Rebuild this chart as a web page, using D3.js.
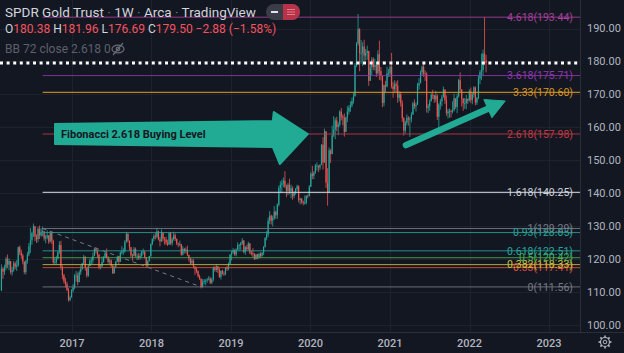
<!DOCTYPE html>
<html>
<head>
<meta charset="utf-8">
<script src="https://cdn.jsdelivr.net/npm/d3@7"></script>
<style>
  body { margin: 0; background: #131722; }
  svg { display: block; }
  text { font-family: Roboto, "Liberation Sans", sans-serif; }
</style>
</head>
<body>
<div id="chart"></div>
<script>
// weekly candles, one row per week: [close, high, low]; open is the previous close
var firstOpen = 110.5;
var weekStarts = ['2016-02-12', '2017-01-06', '2018-01-05', '2019-01-04', '2020-01-03', '2021-01-01', '2022-01-07'];

var candles2016 = [
  [117.1,118.4,110.3],[116.2,117.6,114.0],[117.4,118.3,115.2],[120.1,120.7,116.6],[118.3,121.4,117.2],
  [119.4,120.2,116.6],[116.0,119.3,115.4],[116.6,117.7,115.0],[118.7,119.4,116.2],[117.7,119.2,116.9],
  [118.1,119.7,116.4],[123.6,123.8,117.7],[122.0,124.1,121.2],[121.1,122.9,120.1],[119.2,121.6,118.4],
  [116.1,119.3,115.5],[119.5,119.7,115.3],[121.4,122.2,118.6],[123.9,124.9,120.9],[125.7,129.5,121.9],
  [127.9,128.3,124.4],[130.0,130.8,126.7],[126.9,129.9,125.5],[126.0,127.5,124.9],[129.2,129.8,125.1],
  [127.2,130.2,126.1],[128.3,129.4,126.8],[128.5,129.9,126.9],[126.3,128.4,125.6],[126.6,127.4,124.8],
  [127.2,128.7,126.0],[125.3,127.0,124.6],[127.9,128.6,125.0],[125.6,128.2,124.6],[119.0,125.9,118.6],
  [119.1,120.6,118.3],[120.2,121.0,118.5],[122.1,122.5,119.9],[124.3,125.4,121.6],[117.7,125.6,116.8],
  [115.1,118.0,113.9],[113.3,115.5,112.6],[112.4,114.3,111.4],[110.6,113.1,110.3],[107.6,111.2,107.1],
  [108.4,108.9,107.2],[110.5,110.9,108.3]
];
var candles2017 = [
  [111.4,112.4,109.9],[115.0,115.5,110.9],[115.0,116.4,113.2],[113.0,115.9,112.1],[116.0,116.6,113.1],
  [117.0,118.1,115.2],[118.7,118.8,116.7],[120.7,121.3,118.5],[117.3,120.9,116.5],[115.0,117.3,114.4],
  [117.9,118.3,114.6],[119.5,120.1,117.8],[119.6,120.4,118.4],[120.9,122.0,118.6],[123.1,123.5,120.9],
  [122.6,123.6,121.7],[121.4,122.9,120.4],[117.4,121.5,116.9],[117.8,118.3,116.9],[119.1,120.8,117.6],
  [120.5,120.9,118.9],[121.8,122.2,120.3],[120.5,123.2,120.2],[119.2,120.9,118.6],[119.6,120.2,118.5],
  [118.0,119.9,117.5],[115.7,118.2,115.5],[117.7,117.9,115.6],[119.3,119.5,117.2],[120.6,121.0,119.0],
  [119.2,120.5,118.4],[121.9,122.4,119.2],[122.3,123.9,121.4],[122.4,123.3,121.3],[125.2,125.8,121.9],
  [127.6,128.3,125.0],[125.6,127.9,125.0],[123.6,125.4,122.6],[121.1,123.7,120.6],[121.0,121.6,119.5],
  [123.1,123.7,120.8],[121.0,123.5,120.6],[121.0,121.7,119.7],[120.4,121.8,119.8],[121.0,121.8,119.9],
  [122.3,122.5,120.5],[122.3,123.2,121.4],[120.5,122.6,120.2],[118.1,120.6,117.4],[119.5,119.6,117.5],
  [120.9,121.0,119.2],[124.6,124.8,120.7]
];
var candles2018 = [
  [126.1,126.3,124.2],[127.0,127.6,125.4],[126.8,127.9,126.0],[128.4,129.5,126.3],[126.0,128.6,125.7],
  [125.4,126.8,123.9],[128.2,129.0,125.2],[126.2,128.0,125.4],[125.9,126.7,124.4],[125.0,126.8,124.3],
  [124.4,125.9,124.0],[127.9,128.3,124.5],[124.8,128.2,124.3],[126.0,126.6,124.1],[127.2,128.3,125.6],
  [126.1,127.8,125.5],[124.7,126.3,124.2],[124.6,125.0,123.6],[124.6,125.6,123.9],[121.4,124.6,121.0],
  [123.1,123.9,121.1],[122.5,123.4,121.7],[122.9,123.6,121.8],[121.3,124.1,120.9],[120.2,121.3,119.3],
  [118.7,120.3,118.4],[119.5,120.2,118.6],[117.8,120.0,117.2],[116.9,117.8,115.2],[116.3,117.6,115.8],
  [114.8,116.6,114.4],[114.1,115.3,113.7],[111.5,113.8,111.1],[113.1,113.9,111.4],[113.4,114.0,112.4],
  [113.5,113.9,112.0],[113.8,114.3,112.8],[114.1,114.9,113.5],[112.8,114.6,112.4],[113.8,114.3,112.4],
  [117.4,117.8,113.2],[116.7,117.8,116.2],[117.8,118.4,116.1],[116.8,117.9,115.8],[114.6,117.5,114.3],
  [116.4,116.6,113.8],[115.6,116.8,115.3],[115.5,116.3,114.9],[117.3,117.6,115.1],[117.0,118.0,116.4],
  [118.6,119.0,116.6],[121.4,121.5,118.5]
];
var candles2019 = [
  [122.0,122.5,119.6],[122.7,123.4,121.6],[121.4,123.0,121.0],[122.9,123.3,120.8],[124.2,125.1,122.7],
  [124.3,124.6,122.6],[124.8,125.2,122.8],[125.6,126.4,124.3],[122.1,125.8,121.8],[123.6,123.9,121.3],
  [123.0,124.4,122.6],[124.8,125.3,122.6],[121.9,124.7,121.5],[121.8,122.6,121.1],[121.5,123.3,120.5],
  [120.0,121.8,119.7],[121.4,121.6,119.9],[120.5,121.6,120.0],[121.6,121.9,120.1],[121.0,122.1,120.3],
  [121.9,122.1,120.6],[123.7,124.0,121.2],[126.4,126.7,123.5],[127.5,128.5,125.7],[131.6,132.6,126.8],
  [133.2,134.6,130.6],[131.7,133.5,130.5],[132.5,133.2,129.9],[134.4,136.1,131.9],[133.3,134.7,132.2],
  [136.5,136.9,132.2],[141.6,142.3,136.0],[142.6,143.6,140.0],[143.0,144.1,140.3],[143.8,144.8,141.8],
  [142.0,146.7,141.5],[140.7,142.6,138.8],[142.6,143.1,139.4],[140.6,144.4,139.7],[141.5,142.6,138.5],
  [139.1,142.1,138.0],[140.1,140.6,138.5],[141.3,141.6,139.5],[142.1,142.6,140.6],[138.0,142.4,137.2],
  [138.3,138.6,136.6],[137.3,138.6,136.8],[137.0,137.8,136.3],[137.0,139.3,136.6],[139.2,139.4,136.6],
  [139.1,139.6,138.4],[142.0,142.5,139.1]
];
var candles2020 = [
  [145.9,146.4,141.9],[145.3,148.3,144.3],[146.3,146.7,144.2],[148.4,148.9,145.9],[148.4,149.4,146.9],
  [147.8,148.4,146.4],[148.6,148.9,147.0],[154.7,154.9,148.6],[149.3,157.0,147.2],[158.8,159.6,150.4],
  [143.2,157.2,141.6],[140.1,147.6,136.2],[153.0,153.9,140.4],[151.9,153.4,149.2],[157.6,160.5,151.8],
  [159.3,163.4,157.1],[162.1,162.9,156.4],[160.1,163.2,158.8],[160.8,161.5,157.6],[164.8,165.2,160.2],
  [163.3,165.9,162.1],[162.9,163.9,160.6],[158.6,164.2,157.2],[163.0,163.2,158.9],[164.8,166.4,161.6],
  [165.9,166.8,163.9],[166.7,167.9,164.7],[168.0,169.0,166.1],[169.4,170.4,167.2],[178.8,179.5,169.4],
  [185.4,185.9,178.3],[189.8,194.4,184.8],[182.5,190.1,177.0],[182.6,186.5,179.3],[184.5,185.8,178.6],
  [181.8,186.6,180.2],[182.6,183.8,180.3],[183.2,184.8,180.5],[174.1,183.0,172.6],[178.2,179.0,174.2],
  [180.6,181.3,175.8],[178.3,181.3,177.3],[178.9,180.8,177.3],[176.4,179.3,175.3],[182.2,183.4,176.0],
  [177.1,186.3,174.4],[175.6,178.3,174.2],[167.4,175.5,166.1],[172.8,173.0,166.4],[172.4,174.1,170.6],
  [176.4,178.4,172.1],[176.4,177.7,175.3]
];
var candles2021 = [
  [178.4,178.8,175.3],[172.4,182.6,171.8],[171.6,173.7,169.0],[173.1,174.3,170.6],[172.6,173.9,170.6],
  [169.0,174.3,167.4],[170.0,171.0,167.9],[167.3,170.8,166.3],[162.8,168.2,161.7],[159.0,163.1,157.5],
  [161.4,162.0,158.2],[162.9,163.9,160.6],[162.4,163.4,160.5],[162.6,163.1,157.1],[163.9,164.6,161.5],
  [167.3,167.8,163.8],[166.4,168.5,165.6],[166.8,167.6,164.8],[172.7,173.5,166.9],[173.4,174.9,171.4],
  [176.7,177.3,173.4],[178.4,178.8,175.6],[176.4,179.3,175.3],[176.2,177.3,174.1],[165.9,176.7,164.5],
  [166.4,167.1,164.3],[167.9,168.5,165.0],[169.9,170.5,167.9],[169.8,171.4,168.6],[168.5,169.7,167.4],
  [169.6,171.1,167.7],[163.2,170.0,162.2],[166.9,167.3,158.9],[167.9,168.6,165.4],[169.1,169.8,166.4],
  [171.5,172.4,169.3],[168.2,170.9,167.1],[164.3,169.7,163.5],[164.8,165.6,162.7],[164.9,165.7,162.9],
  [164.8,165.4,163.0],[165.3,167.9,164.2],[168.8,170.2,164.8],[166.2,168.8,165.6],[169.4,170.2,164.3],
  [174.3,174.7,169.0],[171.5,176.7,170.6],[168.7,171.2,166.3],[167.3,168.9,165.0],[167.3,168.9,165.6],
  [168.6,169.8,165.5],[168.1,168.8,167.1],[170.96,171.6,167.8]
];
var candles2022 = [
  [168.3,172.1,167.4],[169.9,170.6,167.0],[172.1,172.5,169.0],[167.5,172.4,166.7],[168.9,169.2,166.8],
  [174.8,175.8,168.5],[176.7,177.4,173.1],[177.4,182.4,174.3],[182.4,183.6,175.5],[180.38,193.44,179.0],
  [179.50,181.96,176.69]
];

// fibonacci extension drawn from the 2016 high to the 2018 low
var fibAnchorHigh = ['2016-08-19', 129.29];
var fibAnchorLow = ['2018-08-17', 111.56];
var fibRatios = [0, 0.33, 0.382, 0.5, 0.618, 0.93, 1, 1.618, 2.618, 3.33, 3.618, 4.618];
var fibPrices = [111.56, 117.41, 118.33, 120.42, 122.51, 128.05, 129.29, 140.25, 157.98, 170.60, 175.71, 193.44];

var priceTicks = [100, 110, 120, 130, 140, 150, 160, 170, 180, 190];
var yearTicks = [2017, 2018, 2019, 2020, 2021, 2022, 2023];

var lastBar = { open: 180.38, high: 181.96, low: 176.69, close: 179.50, change: -2.88, pct: -1.58 };

// annotations
var bigArrow = { from: '2016-10-15', to: '2019-12-20', level: 157.98, text: 'Fibonacci 2.618 Buying Level' };
var smallArrow = { from: ['2021-03-15', 154.6], to: ['2022-06-14', 168.0] };

// ---------------------------------------------------------------
var width = 624, height = 353;
var plotRight = 580, plotBottom = 332;
var parse = d3.timeParse('%Y-%m-%d');

var up = '#26a69a', down = '#ef5350', teal = '#22ab94';
var fibColor = {
  0: '#787b86', 0.33: '#e0503a', 0.382: '#c9c33a', 0.5: '#4caf50', 0.618: '#26a69a', 0.93: '#26a69a',
  1: '#787b86', 1.618: '#d1d4dc', 2.618: '#c23b45', 3.33: '#d9951e', 3.618: '#9036b0', 4.618: '#a8409c'
};

var x = d3.scaleTime()
  .domain([new Date(2017, 0, 1), new Date(2023, 0, 1)])
  .range([72, 549]);
var y = d3.scaleLinear()
  .domain([100, 190])
  .range([325, 28.5]);

var svg = d3.select('#chart').append('svg')
  .attr('width', width)
  .attr('height', height);

svg.append('rect').attr('width', width).attr('height', height).attr('fill', '#131722');

svg.append('clipPath').attr('id', 'plot-clip')
  .append('rect').attr('width', plotRight).attr('height', plotBottom);

var plot = svg.append('g').attr('clip-path', 'url(#plot-clip)');

// grid
plot.selectAll('line.hgrid')
  .data(priceTicks)
  .enter().append('line')
  .attr('class', 'hgrid')
  .attr('x1', 0).attr('x2', plotRight)
  .attr('y1', function (d) { return Math.round(y(d)) + 0.5; })
  .attr('y2', function (d) { return Math.round(y(d)) + 0.5; })
  .attr('stroke', '#1e222d');

plot.selectAll('line.vgrid')
  .data(yearTicks)
  .enter().append('line')
  .attr('class', 'vgrid')
  .attr('x1', function (d) { return Math.round(x(new Date(d, 0, 1))) + 0.5; })
  .attr('x2', function (d) { return Math.round(x(new Date(d, 0, 1))) + 0.5; })
  .attr('y1', 0).attr('y2', plotBottom)
  .attr('stroke', '#1e222d');

// build candles
var candles = [];
var prev = firstOpen;
[candles2016, candles2017, candles2018, candles2019, candles2020, candles2021, candles2022].forEach(function (rows, k) {
  var start = parse(weekStarts[k]);
  rows.forEach(function (r, i) {
    candles.push({
      date: d3.timeDay.offset(start, i * 7),
      open: prev, close: r[0],
      high: Math.max(r[1], prev, r[0]),
      low: Math.min(r[2], prev, r[0])
    });
    prev = r[0];
  });
});

var candle = plot.selectAll('g.candle')
  .data(candles)
  .enter().append('g')
  .attr('class', 'candle');

candle.append('line')
  .attr('x1', function (d) { return x(d.date); })
  .attr('x2', function (d) { return x(d.date); })
  .attr('y1', function (d) { return y(d.high); })
  .attr('y2', function (d) { return y(d.low); })
  .attr('stroke', function (d) { return d.close >= d.open ? up : down; })
  .attr('stroke-width', 0.8);

candle.append('rect')
  .attr('x', function (d) { return x(d.date) - 0.6; })
  .attr('width', 1.2)
  .attr('y', function (d) { return y(Math.max(d.open, d.close)); })
  .attr('height', function (d) { return Math.max(0.8, Math.abs(y(d.open) - y(d.close))); })
  .attr('fill', function (d) { return d.close >= d.open ? up : down; });

// fib levels
var fibX0 = x(parse(fibAnchorHigh[0]));
var fibs = fibRatios.map(function (r, i) { return { ratio: r, price: fibPrices[i] }; });

plot.selectAll('line.fib')
  .data(fibs)
  .enter().append('line')
  .attr('class', 'fib')
  .attr('x1', fibX0).attr('x2', plotRight)
  .attr('y1', function (d) { return y(d.price); })
  .attr('y2', function (d) { return y(d.price); })
  .attr('stroke', function (d) { return fibColor[d.ratio]; })
  .attr('stroke-width', function (d) { return d.ratio === 1.618 || d.ratio === 3.33 ? 1.3 : 1; })
  .attr('stroke-opacity', 0.85);

plot.append('line')
  .attr('x1', fibX0).attr('y1', y(fibAnchorHigh[1]))
  .attr('x2', x(parse(fibAnchorLow[0]))).attr('y2', y(fibAnchorLow[1]))
  .attr('stroke', '#787b86')
  .attr('stroke-dasharray', '4,4');

plot.selectAll('text.fib')
  .data(fibs)
  .enter().append('text')
  .attr('class', 'fib')
  .attr('x', 573)
  .attr('y', function (d) { return y(d.price); })
  .attr('dy', '0.35em')
  .attr('text-anchor', 'end')
  .attr('font-size', 10.5)
  .attr('fill', function (d) { return fibColor[d.ratio]; })
  .text(function (d) { return d.ratio + '(' + d.price.toFixed(2) + ')'; });

// last close dotted line
plot.append('line')
  .attr('x1', 0).attr('x2', plotRight)
  .attr('y1', y(lastBar.close)).attr('y2', y(lastBar.close))
  .attr('stroke', '#ffffff')
  .attr('stroke-width', 3)
  .attr('stroke-dasharray', '3,3.6');

// big arrow
var ax0 = x(parse(bigArrow.from)), ax1 = x(parse(bigArrow.to)), ay = y(bigArrow.level);
var bigPts = [
  [ax0, ay - 10], [ax1 - 35, ay - 13], [ax1 - 34, ay - 22], [ax1, ay],
  [ax1 - 28, ay + 30], [ax1 - 35, ay + 13], [ax0, ay + 10]
];
plot.append('path')
  .attr('d', d3.line()(bigPts) + 'Z')
  .attr('fill', teal)
  .attr('stroke', teal)
  .attr('stroke-width', 2)
  .attr('stroke-linejoin', 'round');
plot.append('text')
  .attr('x', ax0 + 6)
  .attr('y', ay)
  .attr('dy', '0.35em')
  .attr('font-family', '"Liberation Sans", Arial, sans-serif')
  .attr('font-weight', 'bold')
  .attr('font-size', 11)
  .attr('fill', '#131722')
  .text(bigArrow.text);

// small arrow
var sx0 = x(parse(smallArrow.from[0])), sy0 = y(smallArrow.from[1]);
var sx1 = x(parse(smallArrow.to[0])), sy1 = y(smallArrow.to[1]);
var len = Math.hypot(sx1 - sx0, sy1 - sy0);
var ux = (sx1 - sx0) / len, uy = (sy1 - sy0) / len;
var bx = sx1 - ux * 19, by = sy1 - uy * 19;
plot.append('line')
  .attr('x1', sx0).attr('y1', sy0)
  .attr('x2', bx).attr('y2', by)
  .attr('stroke', teal)
  .attr('stroke-width', 6.5)
  .attr('stroke-linecap', 'round');
plot.append('path')
  .attr('d', d3.line()([[sx1, sy1], [bx - uy * 10, by + ux * 10], [bx + uy * 10, by - ux * 10]]) + 'Z')
  .attr('fill', teal)
  .attr('stroke', teal)
  .attr('stroke-linejoin', 'round');

// axes frame
svg.append('line')
  .attr('x1', plotRight + 0.5).attr('x2', plotRight + 0.5)
  .attr('y1', 0).attr('y2', plotBottom)
  .attr('stroke', '#2a2e39');
svg.append('line')
  .attr('x1', 0).attr('x2', width)
  .attr('y1', plotBottom + 0.5).attr('y2', plotBottom + 0.5)
  .attr('stroke', '#2a2e39');

svg.selectAll('text.price')
  .data(priceTicks)
  .enter().append('text')
  .attr('class', 'price')
  .attr('x', 587)
  .attr('y', function (d) { return y(d); })
  .attr('dy', '0.35em')
  .attr('font-size', 11)
  .attr('fill', '#b2b5be')
  .text(function (d) { return d3.format('.2f')(d); });

svg.selectAll('text.year')
  .data(yearTicks)
  .enter().append('text')
  .attr('class', 'year')
  .attr('x', function (d) { return x(new Date(d, 0, 1)); })
  .attr('y', 343)
  .attr('dy', '0.35em')
  .attr('text-anchor', 'middle')
  .attr('font-size', 11)
  .attr('font-weight', 500)
  .attr('fill', '#b2b5be')
  .text(function (d) { return d; });

// gear
var gear = svg.append('g').attr('transform', 'translate(605,342)')
  .attr('stroke', '#b2b5be').attr('fill', 'none');
gear.append('circle').attr('r', 4.5).attr('stroke-width', 1.2);
gear.append('circle').attr('r', 1.8).attr('stroke-width', 1);
gear.selectAll('line')
  .data(d3.range(8))
  .enter().append('line')
  .attr('x1', function (d) { return Math.cos(d * Math.PI / 4) * 4.5; })
  .attr('y1', function (d) { return Math.sin(d * Math.PI / 4) * 4.5; })
  .attr('x2', function (d) { return Math.cos(d * Math.PI / 4) * 6.5; })
  .attr('y2', function (d) { return Math.sin(d * Math.PI / 4) * 6.5; })
  .attr('stroke-width', 1.6);

// legend
var head = svg.append('g');
var t1 = head.append('text').attr('x', 5).attr('y', 12).attr('dy', '0.35em')
  .attr('font-size', 13.5).attr('fill', '#d1d4dc');
['SPDR Gold Trust', '1W', 'Arca', 'TradingView'].forEach(function (s, i) {
  if (i > 0) t1.append('tspan').attr('fill', '#787b86').text(' · ');
  t1.append('tspan').text(s);
});

var t2 = head.append('text').attr('x', 5).attr('y', 29).attr('dy', '0.35em')
  .attr('font-size', 12).attr('fill', '#f7525f');
[['O', lastBar.open], ['H', lastBar.high], ['L', lastBar.low], ['C', lastBar.close]].forEach(function (p, i) {
  t2.append('tspan').attr('fill', '#d1d4dc').text((i > 0 ? ' ' : '') + p[0]);
  t2.append('tspan').text(p[1].toFixed(2));
});
t2.append('tspan').text(' \u2212' + Math.abs(lastBar.change).toFixed(2) + ' (\u2212' + Math.abs(lastBar.pct).toFixed(2) + '%)');

head.append('text').attr('x', 5).attr('y', 49).attr('dy', '0.35em')
  .attr('font-size', 12).attr('fill', '#5d606b')
  .text('BB 72 close 2.618 0');

var eye = head.append('g').attr('transform', 'translate(118,49)')
  .attr('stroke', '#6a6d78').attr('fill', 'none').attr('stroke-width', 1.2);
eye.append('ellipse').attr('rx', 6).attr('ry', 3.8);
eye.append('circle').attr('r', 1.8);
eye.append('line').attr('x1', -5).attr('y1', 6).attr('x2', 5).attr('y2', -6);

// header buttons
var btn = head.append('g').attr('transform', 'translate(266,4)');
btn.append('rect').attr('width', 34).attr('height', 16).attr('rx', 8).attr('fill', '#3a3d47');
btn.append('path').attr('d', 'M17,0 H26 A8,8 0 0 1 26,16 H17 Z').attr('fill', '#b73349');
btn.append('line').attr('x1', 5).attr('x2', 12).attr('y1', 8).attr('y2', 8)
  .attr('stroke', '#e0e3eb').attr('stroke-width', 2);
btn.append('path').attr('d', 'M21,5.5 H29 M21,8 H29 M21,10.5 H29')
  .attr('stroke', '#e57a8a').attr('stroke-width', 1);
</script>
</body>
</html>
